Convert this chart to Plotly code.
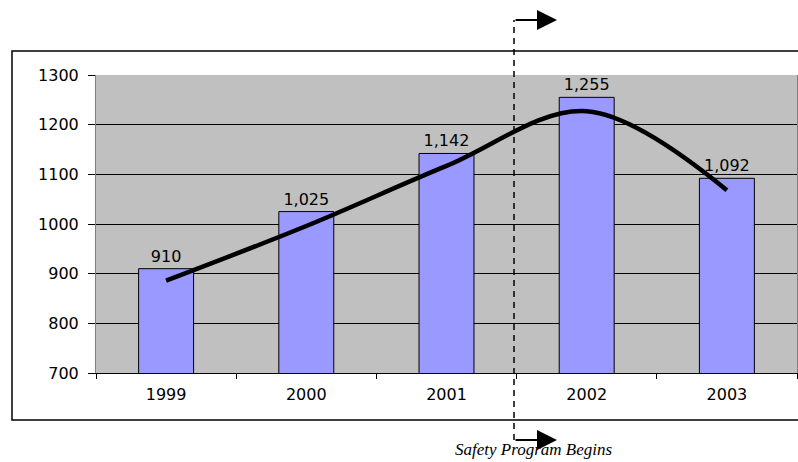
import plotly.graph_objects as go

# Annual totals
years = ["1999", "2000", "2001", "2002", "2003"]
totals = [910, 1025, 1142, 1255, 1092]

# Smoothed trend through the years
trend = [886, 996, 1117, 1227, 1068]

y_ticks = [700, 800, 900, 1000, 1100, 1200, 1300]

label_font = dict(family="DejaVu Sans", size=16, color="black")

fig = go.Figure()

fig.add_trace(go.Bar(
    x=years,
    y=totals,
    marker=dict(color="#9999FF", line=dict(color="black", width=1)),
    texttemplate="%{y:,}",
    textposition="outside",
    constraintext="none",
    textfont=label_font,
    cliponaxis=False,
    hoverinfo="skip",
))

fig.add_trace(go.Scatter(
    x=years,
    y=trend,
    mode="lines",
    line=dict(color="black", width=4.5, shape="spline", smoothing=1.0),
    hoverinfo="skip",
))

# Plot-area geometry in pixels, used to place the decorations in paper units
L, R, T, B = 96, 1, 75, 89
W, H = 798, 462
pw, ph = W - L - R, H - T - B


def px_x(x):
    return (x - L) / pw


def px_y(y):
    return (H - B - y) / ph


shapes = [
    # outer frame around the chart
    dict(type="rect", xref="paper", yref="paper",
         x0=px_x(12), x1=px_x(806), y0=px_y(420), y1=px_y(51),
         line=dict(color="black", width=1.5), layer="below"),
    # programme start marker
    dict(type="line", xref="paper", yref="paper",
         x0=px_x(514), x1=px_x(514), y0=px_y(440), y1=px_y(20),
         line=dict(color="black", width=1.5, dash="6px,5px")),
]

annotations = [
    dict(xref="paper", yref="paper", x=px_x(557), y=px_y(20),
         ax=-43, ay=0, text="", showarrow=True, arrowhead=2,
         arrowsize=2, arrowwidth=2, arrowcolor="black", standoff=0),
    dict(xref="paper", yref="paper", x=px_x(557), y=px_y(440),
         ax=-43, ay=0, text="", showarrow=True, arrowhead=2,
         arrowsize=2, arrowwidth=2, arrowcolor="black", standoff=0),
    dict(xref="paper", yref="paper", x=px_x(533), y=px_y(461),
         text="Safety Program Begins", showarrow=False,
         font=dict(family="Liberation Serif", size=17, style="italic", color="black"),
         xanchor="center", yanchor="bottom"),
]

fig.update_layout(
    width=W, height=H,
    margin=dict(l=L, r=R, t=T, b=B),
    paper_bgcolor="white",
    plot_bgcolor="#C0C0C0",
    showlegend=False,
    bargap=0.608,
    shapes=shapes,
    annotations=annotations,
    xaxis=dict(
        type="category",
        showgrid=False,
        showline=True, linecolor="black", linewidth=1,
        ticks="outside", tickson="boundaries", ticklen=5, tickcolor="black",
        tickfont=label_font, ticklabelstandoff=7,
    ),
    yaxis=dict(
        range=[700, 1300],
        tickvals=y_ticks,
        showgrid=True, gridcolor="black", gridwidth=1,
        showline=True, linecolor="#808080", linewidth=1, mirror=True,
        ticks="outside", ticklen=7, tickcolor="black",
        tickfont=label_font, ticklabelstandoff=6,
        zeroline=False,
    ),
)

fig.write_html("out.html")
